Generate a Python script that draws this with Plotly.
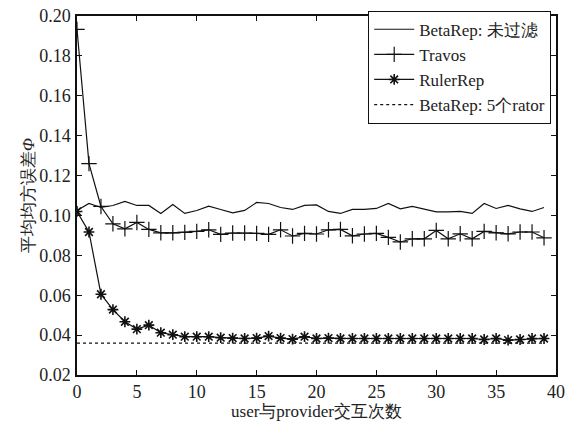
import plotly.graph_objects as go

x_vals = list(range(40))

beta_unfiltered = [0.1025, 0.1060, 0.1040, 0.1050, 0.1070, 0.1050, 0.1050, 0.1010, 0.1055, 0.1010,
                   0.1025, 0.1047, 0.1030, 0.1013, 0.1025, 0.1065, 0.1060, 0.1040, 0.1030, 0.1050,
                   0.1053, 0.1020, 0.1010, 0.1030, 0.1030, 0.1035, 0.1060, 0.1033, 0.1045, 0.1033,
                   0.1018, 0.1018, 0.1020, 0.1010, 0.1060, 0.1035, 0.1050, 0.1033, 0.1020, 0.1040]

travos = [0.1933, 0.1260, 0.1045, 0.0958, 0.0933, 0.0965, 0.0930, 0.0913, 0.0913, 0.0915,
          0.0920, 0.0928, 0.0905, 0.0912, 0.0912, 0.0910, 0.0905, 0.0928, 0.0897, 0.0910,
          0.0907, 0.0928, 0.0930, 0.0898, 0.0907, 0.0910, 0.0890, 0.0867, 0.0883, 0.0883,
          0.0925, 0.0883, 0.0908, 0.0883, 0.0920, 0.0913, 0.0908, 0.0917, 0.0917, 0.0888]

rulerrep = [0.1020, 0.0917, 0.0605, 0.0528, 0.0467, 0.0430, 0.0450, 0.0412, 0.0402, 0.0392,
            0.0392, 0.0392, 0.0387, 0.0385, 0.0383, 0.0385, 0.0395, 0.0385, 0.0380, 0.0392,
            0.0383, 0.0385, 0.0383, 0.0383, 0.0383, 0.0383, 0.0383, 0.0383, 0.0383, 0.0383,
            0.0383, 0.0383, 0.0383, 0.0383, 0.0378, 0.0383, 0.0375, 0.0378, 0.0383, 0.0383]

beta_5rator = [0.0360] * 40

names = ["BetaRep: 未过滤", "Travos", "RulerRep", "BetaRep: 5个rator"]
x_ticks = [0, 5, 10, 15, 20, 25, 30, 35, 40]
y_ticks = [0.02, 0.04, 0.06, 0.08, 0.10, 0.12, 0.14, 0.16, 0.18, 0.20]

FONT = "Liberation Serif"
C = "#111111"
TXT = "#222222"

fig = go.Figure()
fig.add_trace(go.Scatter(x=x_vals, y=beta_unfiltered, mode="lines", name=names[0],
                         line=dict(color=C, width=1.2)))
fig.add_trace(go.Scatter(x=x_vals, y=travos, mode="lines+markers", name=names[1],
                         line=dict(color=C, width=1.2),
                         marker=dict(symbol="cross-thin", size=11, line=dict(color=C, width=1.2))))
fig.add_trace(go.Scatter(x=x_vals, y=rulerrep, mode="lines+markers", name=names[2],
                         line=dict(color=C, width=1.2),
                         marker=dict(symbol="asterisk", size=9, line=dict(color=C, width=1.6))))
fig.add_trace(go.Scatter(x=x_vals, y=beta_5rator, mode="lines", name=names[3],
                         line=dict(color=C, width=1.2, dash="dot")))

axis_common = dict(showline=True, linecolor=C, linewidth=1.5, mirror="ticks",
                   ticks="inside", ticklen=5, tickwidth=1, tickcolor=C,
                   showgrid=False, zeroline=False, automargin=False,
                   tickfont=dict(family=FONT, size=18, color=TXT))

fig.update_layout(
    width=568, height=424,
    margin=dict(l=77, r=12, t=15, b=49),
    plot_bgcolor="white", paper_bgcolor="white",
    font=dict(family=FONT, size=18, color=TXT),
    xaxis=dict(range=[0, 40], tickvals=x_ticks, ticklabelstandoff=0,
               title=dict(text="user与provider交互次数", standoff=4,
                          font=dict(family=FONT, size=17, color=TXT)), **axis_common),
    yaxis=dict(range=[0.02, 0.20], tickvals=y_ticks, tickformat=".2f", ticklabelstandoff=1,
               title=dict(text="平均均方误差<i>Φ</i>", standoff=0,
                          font=dict(family=FONT, size=17, color=TXT)), **axis_common),
    legend=dict(x=0.99, y=1.012, xanchor="right", yanchor="top",
                bgcolor="white", bordercolor=C, borderwidth=1,
                font=dict(family=FONT, size=17, color=TXT),
                tracegroupgap=0, itemwidth=40),
    showlegend=True,
)

fig.write_html("out.html", config={"displayModeBar": False},
               post_script="document.body.style.margin='0';")
